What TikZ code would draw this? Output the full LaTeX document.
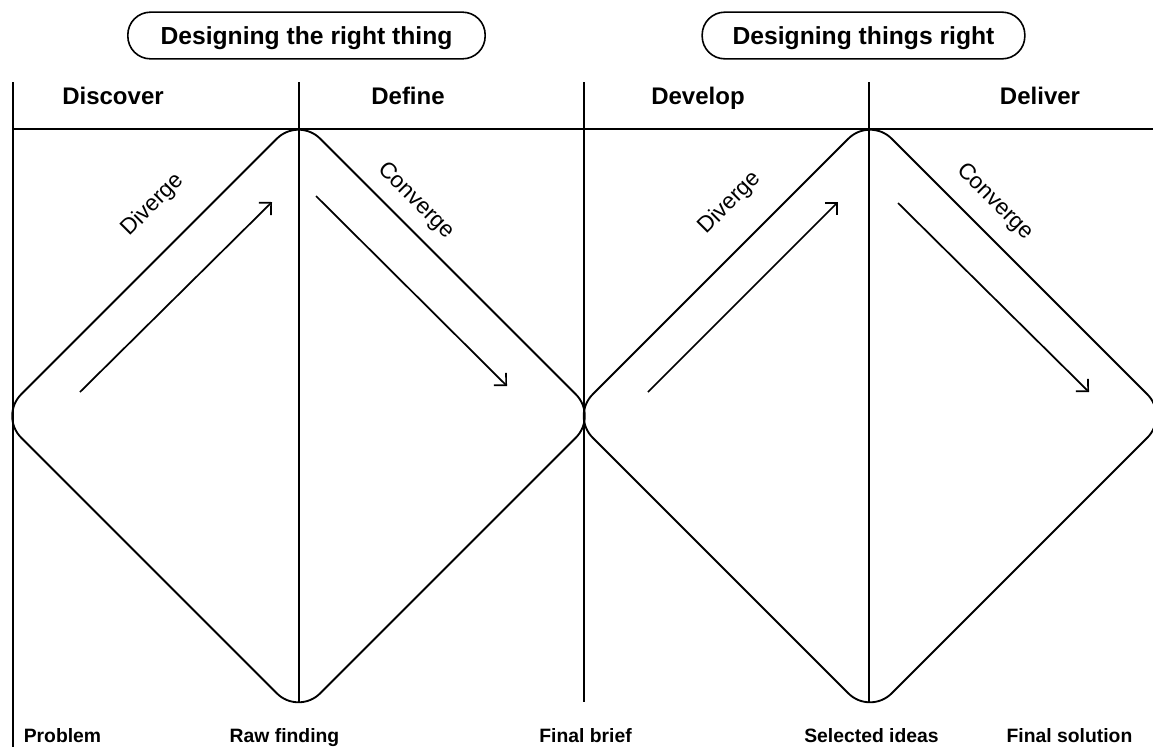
\documentclass[tikz,border=0pt]{standalone}
\usepackage{fontspec}
\setmainfont{Liberation Sans}
\usetikzlibrary{arrows.meta}

\tikzset{
  pill/.style={draw, line width=1.2pt, rounded corners=17pt, minimum height=35pt, text depth=0pt, font=\bfseries\fontsize{18.5}{20}\selectfont},
  phase/.style={anchor=base, font=\bfseries\fontsize{18}{20}\selectfont},
  result/.style={anchor=base, font=\bfseries\fontsize{14.5}{16}\selectfont},
  flowlabel/.style={font=\fontsize{17}{19}\selectfont},
  diamondline/.style={line width=1.4pt, rounded corners=23pt},
  flowarrow/.style={line width=1.3pt, -{Straight Barb[length=6.5pt,width=13pt]}},
  gridline/.style={line width=0.8pt}
}

\begin{document}
\begin{tikzpicture}[x=0.75pt, y=-0.75pt]
    \clip (0,0) rectangle (1153,747);

    % Top labels
    \node[pill, minimum width=268pt] (rightthing) at (306.5,35.5) {Designing the right thing};
    \node[pill, minimum width=242pt] (thingsright) at (863.5,35.5) {Designing things right};

    % Grid lines
    \draw[gridline] (13,82) -- (13,747);
    \draw[gridline] (299,82) -- (299,703);
    \draw[gridline] (584,82) -- (584,702);
    \draw[gridline] (869,82) -- (869,703);
    \draw[gridline] (13,129) -- (1153,129);

    % Phase names
    \node[phase] (discover) at (113,104) {Discover};
    \node[phase] (define) at (408,104) {Define};
    \node[phase] (develop) at (698,104) {Develop};
    \node[phase] (deliver) at (1040,104) {Deliver};

    % First diamond
    \coordinate (d1l) at (-0.5,416);
    \coordinate (d1t) at (298.5,117);
    \coordinate (d1r) at (597.5,416);
    \coordinate (d1b) at (298.5,715);
    \draw[diamondline] (d1l) -- (d1t) -- (d1r) -- (d1b) -- cycle;

    % Second diamond
    \coordinate (d2l) at (571,416);
    \coordinate (d2t) at (870,117);
    \coordinate (d2r) at (1169,416);
    \coordinate (d2b) at (870,715);
    \draw[diamondline] (d2l) -- (d2t) -- (d2r) -- (d2b) -- cycle;

    % Diverge / converge arrows
    \coordinate (dv1s) at (80,392);
    \coordinate (dv1e) at (272,202);
    \coordinate (cv1s) at (316,196);
    \coordinate (cv1e) at (507,386);
    \coordinate (dv2s) at (648,392);
    \coordinate (dv2e) at (838,202);
    \coordinate (cv2s) at (898,203);
    \coordinate (cv2e) at (1089,392);
    \draw[flowarrow] (dv1s) -- (dv1e);
    \draw[flowarrow] (cv1s) -- (cv1e);
    \draw[flowarrow] (dv2s) -- (dv2e);
    \draw[flowarrow] (cv2s) -- (cv2e);

    \node[flowlabel, rotate=45] (diverge1) at (153,205) {Diverge};
    \node[flowlabel, rotate=-45] (converge1) at (416,201) {Converge};
    \node[flowlabel, rotate=45] (diverge2) at (730,203) {Diverge};
    \node[flowlabel, rotate=-45] (converge2) at (995,202) {Converge};

    % Outcomes
    \node[result] (problem) at (62.5,742) {Problem};
    \node[result] (rawfinding) at (284.5,742) {Raw finding};
    \node[result] (finalbrief) at (585.5,742) {Final brief};
    \node[result] (selectedideas) at (871.5,742) {Selected ideas};
    \node[result] (finalsolution) at (1069.5,742) {Final solution};
\end{tikzpicture}
\end{document}
